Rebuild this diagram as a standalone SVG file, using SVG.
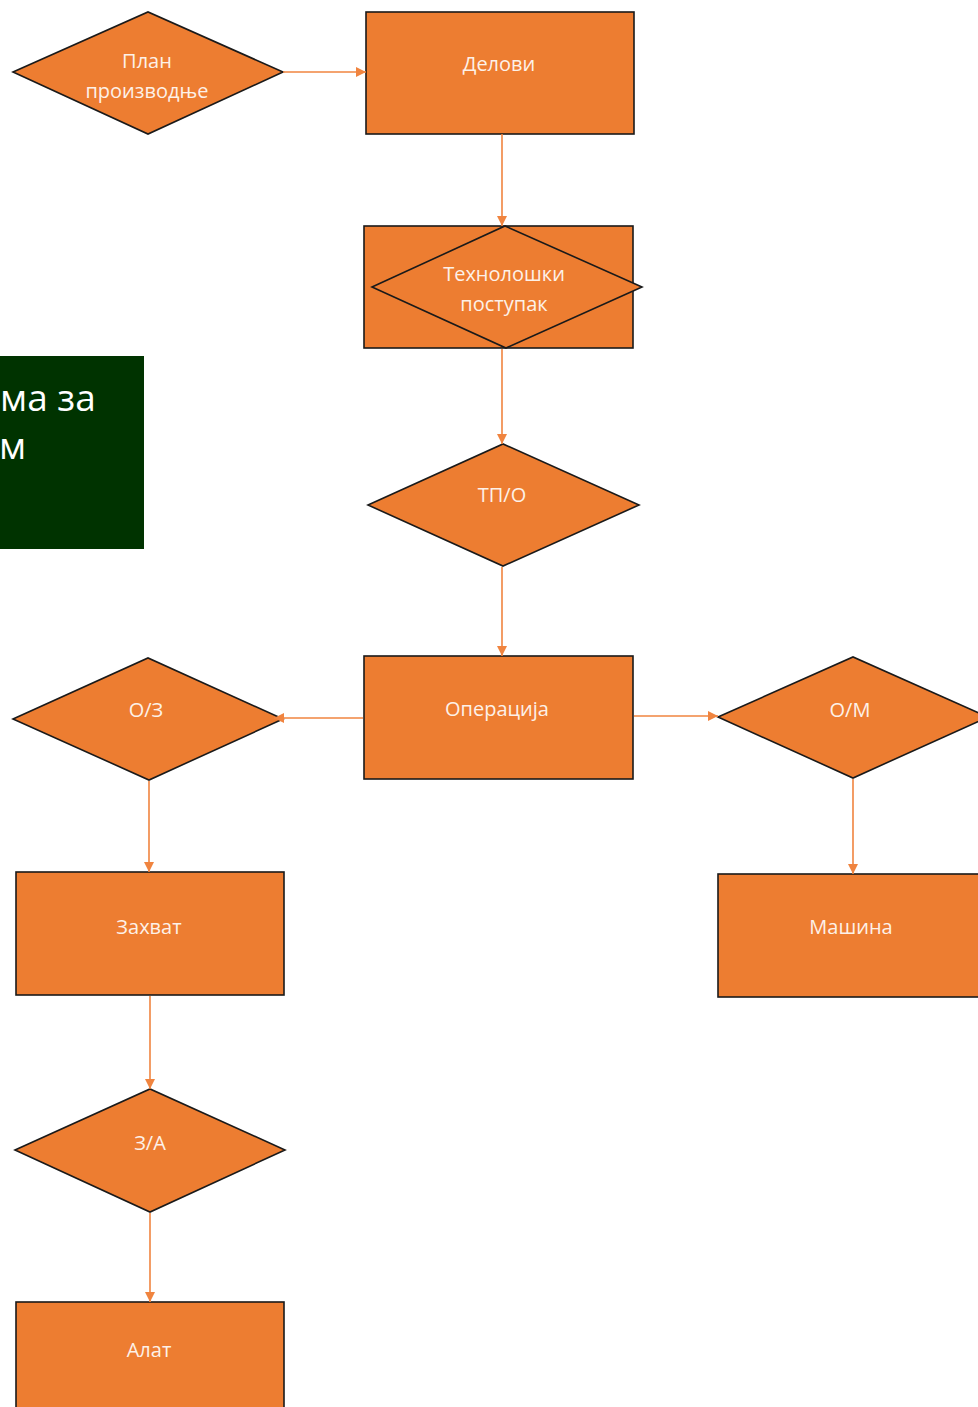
<svg xmlns="http://www.w3.org/2000/svg" width="978" height="1407" viewBox="0 0 978 1407">
<style>
.n{fill:#ED7D31;stroke:#1a1a1a;stroke-width:1.6}
.t{font-family:"Open Sans","Noto Sans",sans-serif;font-size:20px;fill:#fdf1e8;text-anchor:middle;dominant-baseline:central}
.c{stroke:#F0843F;stroke-width:1.6;fill:none;marker-end:url(#ah)}
.g{font-family:"Open Sans","Noto Sans",sans-serif;font-size:37px;fill:#ffffff}
</style>
<defs>
<marker id="ah" viewBox="0 0 10 10" refX="10" refY="5" markerWidth="10" markerHeight="10" markerUnits="userSpaceOnUse" orient="auto">
<path d="M0,0 L10,5 L0,10 Z" fill="#F0843F"/>
</marker>
</defs>
<rect width="978" height="1407" fill="#ffffff"/>

<g id="title-box">
<rect x="0" y="356" width="144" height="193" fill="#003300"/>
<text class="g" x="0" y="411">ма за</text>
<text class="g" x="-1" y="459">м</text>
</g>

<g id="plan">
<polygon class="n" points="13,72 148,12 283,72 148,134"/>
<text class="t" x="147" y="60">План</text>
<text class="t" x="147" y="90">производње</text>
</g>

<g id="delovi">
<rect class="n" x="366" y="12" width="268" height="122"/>
<text class="t" x="499" y="63">Делови</text>
</g>

<g id="tehnoloski">
<rect class="n" x="364" y="226" width="269" height="122"/>
<polygon class="n" points="372,287 505,226 642,287 506,348"/>
<text class="t" x="504" y="273">Технолошки</text>
<text class="t" x="504" y="303">поступак</text>
</g>

<g id="tpo">
<polygon class="n" points="368,505 503,444 639,505 503,566"/>
<text class="t" x="502" y="494">ТП/О</text>
</g>

<g id="operacija">
<rect class="n" x="364" y="656" width="269" height="123"/>
<text class="t" x="497" y="708">Операција</text>
</g>

<g id="oz">
<polygon class="n" points="13,719 148,658 283,719 149,780"/>
<text class="t" x="146" y="709">О/З</text>
</g>

<g id="om">
<polygon class="n" points="718,717 853,657 988,717 853,778"/>
<text class="t" x="850" y="709">О/М</text>
</g>

<g id="zahvat">
<rect class="n" x="16" y="872" width="268" height="123"/>
<text class="t" x="149" y="926">Захват</text>
</g>

<g id="masina">
<rect class="n" x="718" y="874" width="270" height="123"/>
<text class="t" x="851" y="926">Машина</text>
</g>

<g id="za">
<polygon class="n" points="15,1150 150,1089 285,1150 150,1212"/>
<text class="t" x="150" y="1142">З/А</text>
</g>

<g id="alat">
<rect class="n" x="16" y="1302" width="268" height="120"/>
<text class="t" x="149" y="1349">Алат</text>
</g>

<g id="connectors">
<line class="c" x1="283" y1="72" x2="366" y2="72"/>
<line class="c" x1="502" y1="134" x2="502" y2="226"/>
<line class="c" x1="502" y1="349" x2="502" y2="444"/>
<line class="c" x1="502" y1="567" x2="502" y2="656"/>
<line class="c" x1="363" y1="718" x2="274" y2="718"/>
<line class="c" x1="634" y1="716" x2="718" y2="716"/>
<line class="c" x1="149" y1="781" x2="149" y2="872"/>
<line class="c" x1="853" y1="779" x2="853" y2="874"/>
<line class="c" x1="150" y1="996" x2="150" y2="1089"/>
<line class="c" x1="150" y1="1213" x2="150" y2="1302"/>
</g>
</svg>
